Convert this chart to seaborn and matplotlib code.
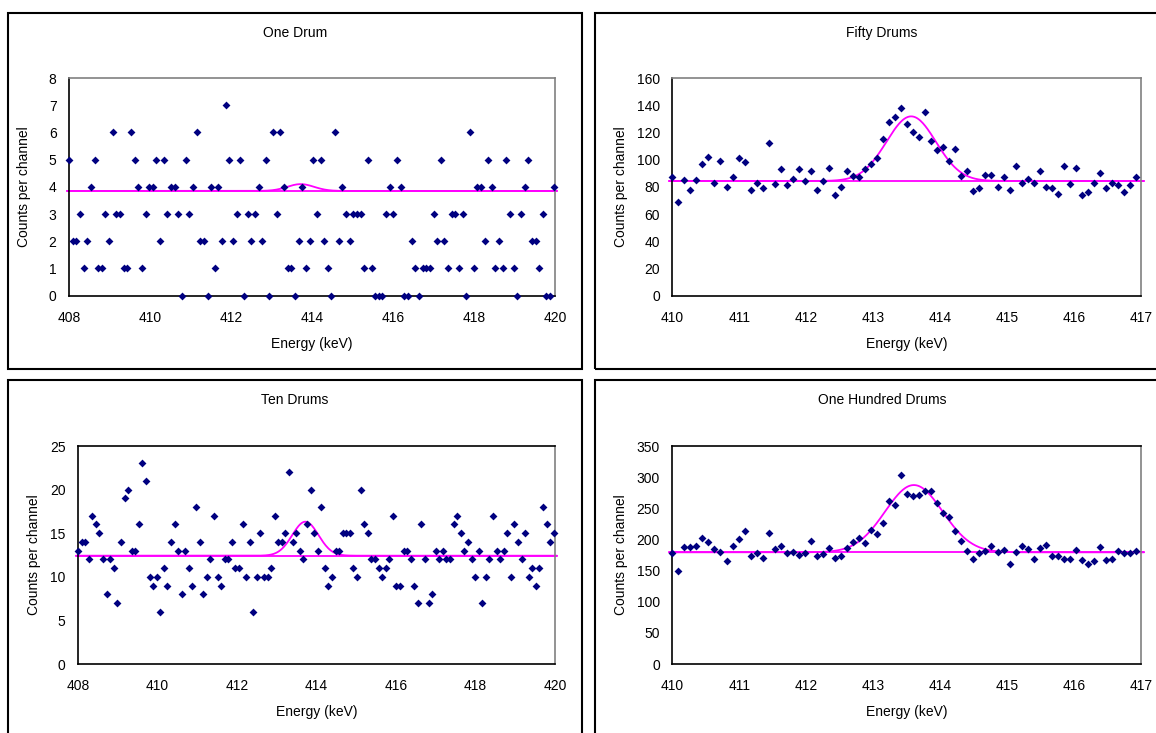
import numpy as np
import pandas as pd
import seaborn as sns
import matplotlib.pyplot as plt
from matplotlib.patches import Rectangle

# Counts per channel, channel width 0.09 keV
one_drum = [5, 2, 2, 3, 1, 2, 4, 5, 1, 1, 3, 2, 6, 3, 3, 1, 1, 6, 5, 4,
            1, 3, 4, 4, 5, 2, 5, 3, 4, 4, 3, 0, 5, 3, 4, 6, 2, 2, 0, 4,
            1, 4, 2, 7, 5, 2, 3, 5, 0, 3, 2, 3, 4, 2, 5, 0, 6, 3, 6, 4,
            1, 1, 0, 2, 4, 1, 2, 5,
            3, 5, 2, 1, 0, 6, 2, 4, 3, 2, 3, 3, 3, 1, 5, 1, 0, 0, 0, 3,
            4, 3, 5, 4, 0, 0, 2, 1, 0, 1, 1, 1, 3, 2, 5, 2, 1, 3, 3, 1,
            3, 0, 6, 1, 4, 4, 2, 5, 4, 1, 2, 1, 5, 3, 1, 0, 3, 4, 5, 2,
            2, 1, 3, 0, 0, 4]
ten_drums = [13, 14, 14, 12, 17, 16, 15, 12, 8, 12, 11, 7, 14, 19, 20, 13, 13, 16, 23, 21,
             10, 9, 10, 6, 11, 9, 14, 16, 13, 8, 13, 11, 9, 18, 14, 8, 10, 12, 17, 10,
             9, 12, 12, 14, 11, 11, 16, 10, 14, 6, 10, 15, 10, 10, 11, 17, 14, 14, 15, 22,
             14, 15, 13, 12, 16, 20, 15,
             13, 18, 11, 9, 10, 13, 13, 15, 15, 15, 11, 10, 20, 16, 15, 12, 12, 11, 10, 11,
             12, 17, 9, 9, 13, 13, 12, 9, 7, 16, 12, 7, 8, 13, 12, 13, 12, 12, 16, 17,
             15, 13, 14, 12, 10, 13, 7, 10, 12, 17, 13, 12, 13, 15, 10, 16, 14, 12, 15, 10,
             11, 9, 11, 18, 16, 14, 15]
fifty_drums = [87, 69, 85, 78, 85, 97, 102, 83, 99, 80, 87, 101, 98, 78, 83, 79, 112, 82, 93, 81,
               86, 93, 84, 92, 78, 84, 94, 74, 80, 92, 88, 87, 93, 97, 101, 115, 128, 131, 138,
               126, 120, 117, 135, 114, 107, 109, 99, 108, 88, 92, 77, 79, 89, 89, 80, 87, 78,
               95, 83, 86, 83, 92, 80, 79, 75, 95, 82, 94, 74, 76, 83, 90, 79, 83, 81, 76, 81, 87]
hundred_drums = [179, 149, 188, 188, 190, 203, 196, 185, 180, 165, 190, 201, 214, 174, 178, 170,
                 211, 185, 190, 178, 180, 175, 179, 197, 173, 177, 186, 170, 174, 186, 196, 203,
                 195, 215, 208, 226, 262, 256, 303,
                 273, 269, 271, 277, 278, 258, 242, 236, 214, 198, 181, 169, 178, 182, 189, 180,
                 183, 160, 180, 190, 185, 168, 186, 191, 174, 173, 169, 169, 183, 167, 160, 165,
                 188, 167, 169, 182, 178, 178, 182]

channel_width = 0.09
wide_start, narrow_start = 408.0, 410.0

# fitted background + peak (background, amplitude, centre, sigma)
fit_one = (3.85, 0.25, 413.72, 0.33)
fit_ten = (12.42, 3.9, 413.72, 0.33)
fit_fifty = (84.3, 47.5, 413.57, 0.37)
fit_hundred = (179.3, 108.0, 413.61, 0.43)

panels = [
    ("One Drum", one_drum, wide_start, fit_one, (408, 420), np.arange(408, 421, 2), (0, 8), np.arange(0, 9, 1),
     (69, 555, 78, 295.7), (8, 13, 574, 356), "#808080", 31),
    ("Fifty Drums", fifty_drums, narrow_start, fit_fifty, (410, 417), np.arange(410, 418, 1), (0, 160), np.arange(0, 161, 20),
     (672.3, 1140.7, 78, 295.7), (595, 13, 580, 356), "#808080", 628),
    ("Ten Drums", ten_drums, wide_start, fit_ten, (408, 420), np.arange(408, 421, 2), (0, 25), np.arange(0, 26, 5),
     (78, 555, 446, 664), (8, 380, 574, 370), "black", 41),
    ("One Hundred Drums", hundred_drums, narrow_start, fit_hundred, (410, 417), np.arange(410, 418, 1), (0, 350), np.arange(0, 351, 50),
     (672.3, 1140.7, 446, 664), (595, 380, 580, 370), "black", 628),
]

W, H = 1156, 733
sns.set_theme(style="white")
plt.rcParams["font.family"] = ["Liberation Sans", "DejaVu Sans"]
plt.rcParams["text.color"] = "black"
plt.rcParams["axes.labelcolor"] = "black"
plt.rcParams["xtick.color"] = "black"
plt.rcParams["ytick.color"] = "black"
fig = plt.figure(figsize=(W / 100, H / 100), dpi=100)
fig.patch.set_facecolor("white")

for title, counts, start, fit, xlim, xticks, ylim, yticks, box, frame, top_col, ylab_x in panels:
    l, r, t, b = box
    ax = fig.add_axes([l / W, 1 - b / H, (r - l) / W, (b - t) / H])
    df = pd.DataFrame({"energy": start + channel_width * np.arange(len(counts)), "counts": counts})

    bg, amp, mu, sig = fit
    xf = np.linspace(xlim[0] - 0.05, xlim[1] + 0.05, 600)
    curve = pd.DataFrame({"energy": xf, "fit": bg + amp * np.exp(-(xf - mu) ** 2 / (2 * sig ** 2)),
                          "bg": np.full_like(xf, bg)})
    sns.lineplot(data=curve, x="energy", y="bg", color="#FF00FF", lw=1.3, ax=ax, clip_on=False)
    sns.lineplot(data=curve, x="energy", y="fit", color="#FF00FF", lw=1.3, ax=ax, clip_on=False)
    sns.scatterplot(data=df, x="energy", y="counts", marker="D", s=16, color="#000080",
                    edgecolor="#000080", linewidth=0, ax=ax, clip_on=False, zorder=5)

    ax.set_xlim(*xlim)
    ax.set_ylim(*ylim)
    ax.set_xticks(xticks)
    ax.set_yticks(yticks)
    ax.tick_params(axis="both", labelsize=10, length=4, width=1, color="black",
                   labelcolor="black", direction="out")
    ax.tick_params(axis="x", pad=7)
    ax.tick_params(axis="y", pad=5)
    ax.spines["left"].set_color("black")
    ax.spines["bottom"].set_color("black")
    ax.spines["top"].set_color(top_col)
    ax.spines["right"].set_color("#808080")
    for sp in ax.spines.values():
        sp.set_linewidth(1.2)
    ax.set_xlabel("Energy (keV)", fontsize=10, color="black")
    ax.set_ylabel("Counts per channel", fontsize=10, color="black")
    ax.xaxis.set_label_coords(0.5, -41 / (b - t))
    ax.yaxis.set_label_coords((ylab_x - l) / (r - l), 0.5)
    ax.grid(False)

    fx, fy, fw, fh = frame
    fig.patches.append(Rectangle((fx / W, 1 - (fy + fh) / H), fw / W, fh / H, transform=fig.transFigure,
                                 fill=False, edgecolor="black", lw=1.5, clip_on=False))
    fig.text((fx + 287) / W, 1 - (fy + 20) / H, title, ha="center", va="center", fontsize=10, color="black")

fig.savefig("out.png", dpi=100)
